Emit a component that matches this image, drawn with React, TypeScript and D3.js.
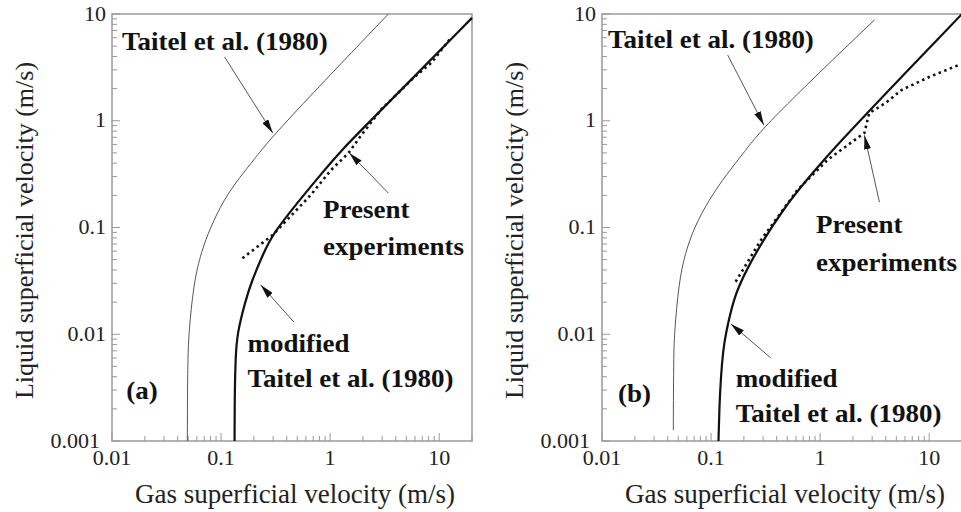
import React from 'react';
import * as d3 from 'd3';

type Pt = [number, number];

// axis ticks
const xTickValues = [0.01, 0.1, 1, 10];
const xTickLabels = ['0.01', '0.1', '1', '10'];
const yTickValues = [0.001, 0.01, 0.1, 1, 10];
const yTickLabels = ['0.001', '0.01', '0.1', '1', '10'];

// panel (a) curves: [gas velocity, liquid velocity]
const taitelA: Pt[] = [
  [0.0491, 0.001], [0.0492, 0.003], [0.0497, 0.006], [0.0505, 0.01], [0.056, 0.03], [0.066, 0.06],
  [0.08, 0.1], [0.105, 0.18], [0.15, 0.3], [0.2, 0.43], [0.3, 0.74], [3.42, 10],
];
const modifiedA: Pt[] = [
  [0.133, 0.001], [0.1335, 0.003], [0.136, 0.006], [0.14, 0.01], [0.166, 0.02], [0.19, 0.031],
  [0.24, 0.055], [0.3, 0.088], [0.5, 0.17], [0.77, 0.29], [1.26, 0.53], [2.95, 1.26], [20, 9.2],
];
const experimentsA: Pt[] = [
  [0.157, 0.0515], [0.297, 0.085], [0.66, 0.2], [1.02, 0.346], [1.36, 0.46], [1.5, 0.51],
  [1.85, 0.69], [2.95, 1.28], [5.94, 2.57], [8.5, 3.5], [12.5, 5.8],
];

// panel (b) curves
const taitelB: Pt[] = [
  [0.0451, 0.00127], [0.0452, 0.003], [0.0455, 0.006], [0.046, 0.01], [0.0505, 0.03], [0.058, 0.058],
  [0.07, 0.1], [0.095, 0.18], [0.14, 0.32], [0.2, 0.5], [0.305, 0.9], [3.15, 8.8],
];
const modifiedB: Pt[] = [
  [0.117, 0.001], [0.119, 0.002], [0.123, 0.004], [0.129, 0.007], [0.136, 0.01], [0.16, 0.021],
  [0.2, 0.0373], [0.437, 0.146], [1.26, 0.532], [20, 10],
];
const experimentsB: Pt[] = [
  [0.168, 0.031], [0.286, 0.076], [0.62, 0.225], [1.17, 0.43], [2.55, 0.77], [2.82, 1.18],
  [4, 1.47], [5.58, 1.94], [10, 2.57], [18.7, 3.33],
];

interface Note { text: string; at: Pt; }
interface Arrow { from: Pt; to: Pt; }

const notesA: Note[] = [
  { text: 'Taitel et al. (1980)', at: [0.01236, 4.6] },
  { text: 'Present', at: [0.861, 0.123] },
  { text: 'experiments', at: [0.861, 0.055] },
  { text: 'modified', at: [0.175, 0.0068] },
  { text: 'Taitel et al. (1980)', at: [0.175, 0.0032] },
  { text: '(a)', at: [0.0135, 0.0025] },
];
const arrowsA: Arrow[] = [
  { from: [0.1077, 3.96], to: [0.298, 0.767] },
  { from: [3.42, 0.21], to: [1.5, 0.5] },
  { from: [0.466, 0.013], to: [0.231, 0.029] },
];
const notesB: Note[] = [
  { text: 'Taitel et al. (1980)', at: [0.01136, 4.8] },
  { text: 'Present', at: [0.918, 0.089] },
  { text: 'experiments', at: [0.918, 0.039] },
  { text: 'modified', at: [0.168, 0.0032] },
  { text: 'Taitel et al. (1980)', at: [0.168, 0.0015] },
  { text: '(b)', at: [0.014, 0.0023] },
];
const arrowsB: Arrow[] = [
  { from: [0.142, 4.13], to: [0.305, 0.91] },
  { from: [3.5, 0.173], to: [2.55, 0.73] },
  { from: [0.353, 0.006], to: [0.152, 0.0125] },
];

const FONT = '"Liberation Serif", "Times New Roman", serif';
const TOP = 14;
const BOTTOM = 441;
const PANEL_W = 360;

interface PanelProps {
  left: number;
  taitel: Pt[];
  modified: Pt[];
  experiments: Pt[];
  notes: Note[];
  arrows: Arrow[];
}

function Panel({ left, taitel, modified, experiments, notes, arrows }: PanelProps) {
  const x = d3.scaleLog().domain([0.01, 20]).range([left, left + PANEL_W]);
  const y = d3.scaleLog().domain([0.001, 10]).range([BOTTOM, TOP]);

  const smooth = d3
    .line<Pt>()
    .x((d) => x(d[0]))
    .y((d) => y(d[1]))
    .curve(d3.curveBasis);
  const straight = d3
    .line<Pt>()
    .x((d) => x(d[0]))
    .y((d) => y(d[1]));

  const xMinor = x.ticks();
  const yMinor = y.ticks();
  const isMajor = (v: number) => Math.abs(Math.log10(v) - Math.round(Math.log10(v))) < 1e-6;

  return (
    <g>
      {/* ticks point inward */}
      {xMinor.map((v, i) => (
        <line key={'xt' + i} x1={x(v)} x2={x(v)} y1={BOTTOM} y2={BOTTOM - (isMajor(v) ? 8 : 5)}
          stroke="#999" strokeWidth={1} />
      ))}
      {yMinor.map((v, i) => (
        <line key={'yt' + i} x1={left} x2={left + (isMajor(v) ? 8 : 5)} y1={y(v)} y2={y(v)}
          stroke="#999" strokeWidth={1} />
      ))}
      <rect x={left} y={TOP} width={PANEL_W} height={BOTTOM - TOP} fill="none" stroke="#999" strokeWidth={1.5} />

      {xTickValues.map((v, i) => (
        <text key={'xl' + i} x={x(v)} y={465} textAnchor="middle" fontFamily={FONT} fontSize={22} fill="#222">
          {xTickLabels[i]}
        </text>
      ))}
      {yTickValues.map((v, i) => (
        <text key={'yl' + i} x={left - 6} y={y(v)} dx={i === 0 ? -6 : 0} dy="0.3em" textAnchor="end"
          fontFamily={FONT} fontSize={22} fill="#222">
          {yTickLabels[i]}
        </text>
      ))}

      <text x={left + PANEL_W / 2 + 3} y={503} textAnchor="middle" fontFamily={FONT} fontSize={27} fill="#222">
        Gas superficial velocity (m/s)
      </text>
      <text transform={`translate(${left - 79},${(TOP + BOTTOM) / 2 + 3}) rotate(-90)`} textAnchor="middle"
        fontFamily={FONT} fontSize={26} fill="#222">
        Liquid superficial velocity (m/s)
      </text>

      <path d={smooth(taitel) ?? ''} fill="none" stroke="#555" strokeWidth={1} />
      <path d={smooth(modified) ?? ''} fill="none" stroke="#111" strokeWidth={2.2} />
      <path d={straight(experiments) ?? ''} fill="none" stroke="#111" strokeWidth={2.6} strokeDasharray="2.5,3.5" />

      {arrows.map((a, i) => (
        <line key={'ar' + i} x1={x(a.from[0])} y1={y(a.from[1])} x2={x(a.to[0])} y2={y(a.to[1])}
          stroke="#555" strokeWidth={1} markerEnd="url(#arrowHead)" />
      ))}
      {notes.map((n, i) => (
        <text key={'nt' + i} transform={`translate(${x(n.at[0])},${y(n.at[1])}) scale(1.08,1)`}
          fontFamily={FONT} fontWeight="bold" fontSize={25} fill="#111">
          {n.text}
        </text>
      ))}
    </g>
  );
}

export default function App() {
  return (
    <svg width={961} height={512} style={{ position: 'absolute', left: 0, top: 0, background: '#fff' }}>
      <defs>
        <marker id="arrowHead" viewBox="0 0 14 7" refX={14} refY={3.5} markerWidth={14} markerHeight={7}
          orient="auto" markerUnits="userSpaceOnUse">
          <path d="M0,0 L14,3.5 L0,7 Z" fill="#111" />
        </marker>
      </defs>
      <Panel left={112} taitel={taitelA} modified={modifiedA} experiments={experimentsA} notes={notesA} arrows={arrowsA} />
      <Panel left={602} taitel={taitelB} modified={modifiedB} experiments={experimentsB} notes={notesB} arrows={arrowsB} />
    </svg>
  );
}
